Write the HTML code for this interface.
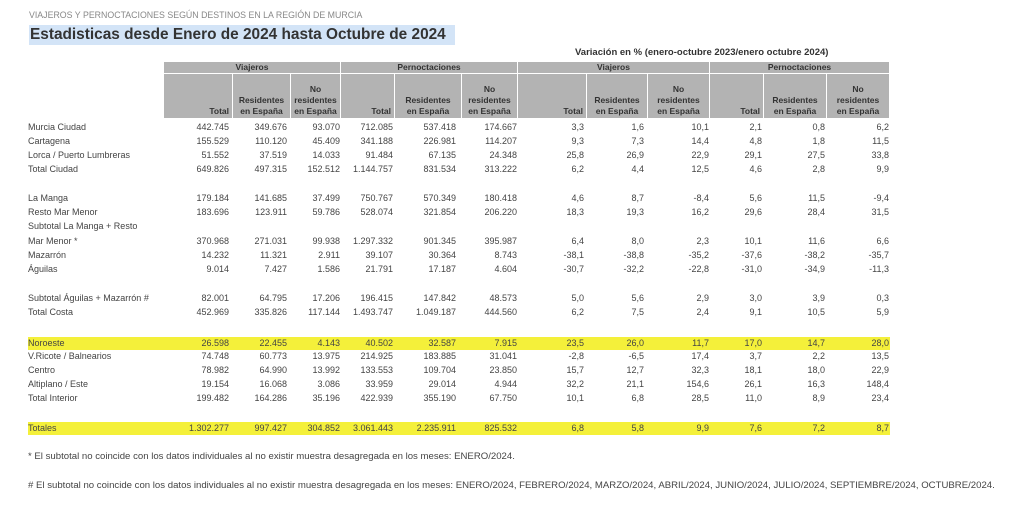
<!DOCTYPE html>
<html><head><meta charset="utf-8"><style>
body{margin:0;width:1024px;height:505px;background:#fff;position:relative;overflow:hidden;font-family:"Liberation Sans",sans-serif;color:#444}
.a{position:absolute}
.r{position:absolute;left:28px;height:13px;line-height:13px;font-size:9px;display:flex;white-space:nowrap}
.r span{text-align:right;display:block}
.r span:first-child{text-align:left;width:136px}
.r span:nth-child(2){width:65px}.r span:nth-child(3){width:58px}.r span:nth-child(4){width:53px}.r span:nth-child(5){width:53px}
.r span:nth-child(6){width:63px}.r span:nth-child(7){width:61px}.r span:nth-child(8){width:67px}.r span:nth-child(9){width:60px}
.r span:nth-child(10){width:65px}.r span:nth-child(11){width:53px}.r span:nth-child(12){width:63px}.r span:nth-child(13){width:64px}
.y{background:#f4f03a;width:862px}
.h{position:absolute;background:#b3b3b3;font-size:8.5px;font-weight:bold;color:#333;text-align:center;line-height:11px}
.hb{display:flex;flex-direction:column;justify-content:flex-end;padding-bottom:1px;box-sizing:border-box}
.hb.t{align-items:flex-end;padding-right:3px}
</style></head><body>
<div class="a" style="left:29px;top:10px;font-size:8.8px;color:#888">VIAJEROS Y PERNOCTACIONES SEGÚN DESTINOS EN LA REGIÓN DE MURCIA</div>
<div class="a" style="left:29px;top:25px;width:426px;height:20px;background:#d3e4f7"></div>
<div class="a" style="left:30px;top:25px;font-size:15.4px;font-weight:bold;color:#333;line-height:20px">Estadisticas desde Enero de 2024 hasta Octubre de 2024</div>
<div class="a" style="left:575px;top:47px;font-size:9.5px;font-weight:bold;color:#333">Variación en % (enero-octubre 2023/enero octubre 2024)</div>

<div class="h" style="left:164px;top:62px;width:176px;height:11px">Viajeros</div>
<div class="h" style="left:341px;top:62px;width:176px;height:11px">Pernoctaciones</div>
<div class="h" style="left:518px;top:62px;width:191px;height:11px">Viajeros</div>
<div class="h" style="left:710px;top:62px;width:179px;height:11px">Pernoctaciones</div>

<div class="h hb t" style="left:164px;top:74px;width:68px;height:44px">Total</div>
<div class="h hb" style="left:233px;top:74px;width:57px;height:44px">Residentes<br>en España</div>
<div class="h hb" style="left:291px;top:74px;width:49px;height:44px">No<br>residentes<br>en España</div>
<div class="h hb t" style="left:341px;top:74px;width:53px;height:44px">Total</div>
<div class="h hb" style="left:395px;top:74px;width:66px;height:44px">Residentes<br>en España</div>
<div class="h hb" style="left:462px;top:74px;width:55px;height:44px">No<br>residentes<br>en España</div>
<div class="h hb t" style="left:518px;top:74px;width:68px;height:44px">Total</div>
<div class="h hb" style="left:587px;top:74px;width:60px;height:44px">Residentes<br>en España</div>
<div class="h hb" style="left:648px;top:74px;width:61px;height:44px">No<br>residentes<br>en España</div>
<div class="h hb t" style="left:710px;top:74px;width:53px;height:44px">Total</div>
<div class="h hb" style="left:764px;top:74px;width:62px;height:44px">Residentes<br>en España</div>
<div class="h hb" style="left:827px;top:74px;width:62px;height:44px">No<br>residentes<br>en España</div>

<div class="r" style="top:121px"><span>Murcia Ciudad</span><span>442.745</span><span>349.676</span><span>93.070</span><span>712.085</span><span>537.418</span><span>174.667</span><span>3,3</span><span>1,6</span><span>10,1</span><span>2,1</span><span>0,8</span><span>6,2</span></div>
<div class="r" style="top:135px"><span>Cartagena</span><span>155.529</span><span>110.120</span><span>45.409</span><span>341.188</span><span>226.981</span><span>114.207</span><span>9,3</span><span>7,3</span><span>14,4</span><span>4,8</span><span>1,8</span><span>11,5</span></div>
<div class="r" style="top:149px"><span>Lorca / Puerto Lumbreras</span><span>51.552</span><span>37.519</span><span>14.033</span><span>91.484</span><span>67.135</span><span>24.348</span><span>25,8</span><span>26,9</span><span>22,9</span><span>29,1</span><span>27,5</span><span>33,8</span></div>
<div class="r" style="top:163px"><span>Total Ciudad</span><span>649.826</span><span>497.315</span><span>152.512</span><span>1.144.757</span><span>831.534</span><span>313.222</span><span>6,2</span><span>4,4</span><span>12,5</span><span>4,6</span><span>2,8</span><span>9,9</span></div>
<div class="r" style="top:192px"><span>La Manga</span><span>179.184</span><span>141.685</span><span>37.499</span><span>750.767</span><span>570.349</span><span>180.418</span><span>4,6</span><span>8,7</span><span>-8,4</span><span>5,6</span><span>11,5</span><span>-9,4</span></div>
<div class="r" style="top:206px"><span>Resto Mar Menor</span><span>183.696</span><span>123.911</span><span>59.786</span><span>528.074</span><span>321.854</span><span>206.220</span><span>18,3</span><span>19,3</span><span>16,2</span><span>29,6</span><span>28,4</span><span>31,5</span></div>
<div class="r" style="top:220px"><span>Subtotal La Manga + Resto</span></div>
<div class="r" style="top:235px"><span>Mar Menor *</span><span>370.968</span><span>271.031</span><span>99.938</span><span>1.297.332</span><span>901.345</span><span>395.987</span><span>6,4</span><span>8,0</span><span>2,3</span><span>10,1</span><span>11,6</span><span>6,6</span></div>
<div class="r" style="top:249px"><span>Mazarrón</span><span>14.232</span><span>11.321</span><span>2.911</span><span>39.107</span><span>30.364</span><span>8.743</span><span>-38,1</span><span>-38,8</span><span>-35,2</span><span>-37,6</span><span>-38,2</span><span>-35,7</span></div>
<div class="r" style="top:263px"><span>Águilas</span><span>9.014</span><span>7.427</span><span>1.586</span><span>21.791</span><span>17.187</span><span>4.604</span><span>-30,7</span><span>-32,2</span><span>-22,8</span><span>-31,0</span><span>-34,9</span><span>-11,3</span></div>
<div class="r" style="top:292px"><span>Subtotal Águilas + Mazarrón #</span><span>82.001</span><span>64.795</span><span>17.206</span><span>196.415</span><span>147.842</span><span>48.573</span><span>5,0</span><span>5,6</span><span>2,9</span><span>3,0</span><span>3,9</span><span>0,3</span></div>
<div class="r" style="top:306px"><span>Total Costa</span><span>452.969</span><span>335.826</span><span>117.144</span><span>1.493.747</span><span>1.049.187</span><span>444.560</span><span>6,2</span><span>7,5</span><span>2,4</span><span>9,1</span><span>10,5</span><span>5,9</span></div>
<div class="r y" style="top:337px"><span>Noroeste</span><span>26.598</span><span>22.455</span><span>4.143</span><span>40.502</span><span>32.587</span><span>7.915</span><span>23,5</span><span>26,0</span><span>11,7</span><span>17,0</span><span>14,7</span><span>28,0</span></div>
<div class="r" style="top:350px"><span>V.Ricote / Balnearios</span><span>74.748</span><span>60.773</span><span>13.975</span><span>214.925</span><span>183.885</span><span>31.041</span><span>-2,8</span><span>-6,5</span><span>17,4</span><span>3,7</span><span>2,2</span><span>13,5</span></div>
<div class="r" style="top:364px"><span>Centro</span><span>78.982</span><span>64.990</span><span>13.992</span><span>133.553</span><span>109.704</span><span>23.850</span><span>15,7</span><span>12,7</span><span>32,3</span><span>18,1</span><span>18,0</span><span>22,9</span></div>
<div class="r" style="top:378px"><span>Altiplano / Este</span><span>19.154</span><span>16.068</span><span>3.086</span><span>33.959</span><span>29.014</span><span>4.944</span><span>32,2</span><span>21,1</span><span>154,6</span><span>26,1</span><span>16,3</span><span>148,4</span></div>
<div class="r" style="top:392px"><span>Total Interior</span><span>199.482</span><span>164.286</span><span>35.196</span><span>422.939</span><span>355.190</span><span>67.750</span><span>10,1</span><span>6,8</span><span>28,5</span><span>11,0</span><span>8,9</span><span>23,4</span></div>
<div class="r y" style="top:422px"><span>Totales</span><span>1.302.277</span><span>997.427</span><span>304.852</span><span>3.061.443</span><span>2.235.911</span><span>825.532</span><span>6,8</span><span>5,8</span><span>9,9</span><span>7,6</span><span>7,2</span><span>8,7</span></div>

<div class="a" style="left:28px;top:451px;font-size:9.6px">* El subtotal no coincide con los datos individuales al no existir muestra desagregada en los meses: ENERO/2024.</div>
<div class="a" style="left:28px;top:480px;font-size:9.6px"># El subtotal no coincide con los datos individuales al no existir muestra desagregada en los meses: ENERO/2024, FEBRERO/2024, MARZO/2024, ABRIL/2024, JUNIO/2024, JULIO/2024, SEPTIEMBRE/2024, OCTUBRE/2024.</div>
</body></html>
